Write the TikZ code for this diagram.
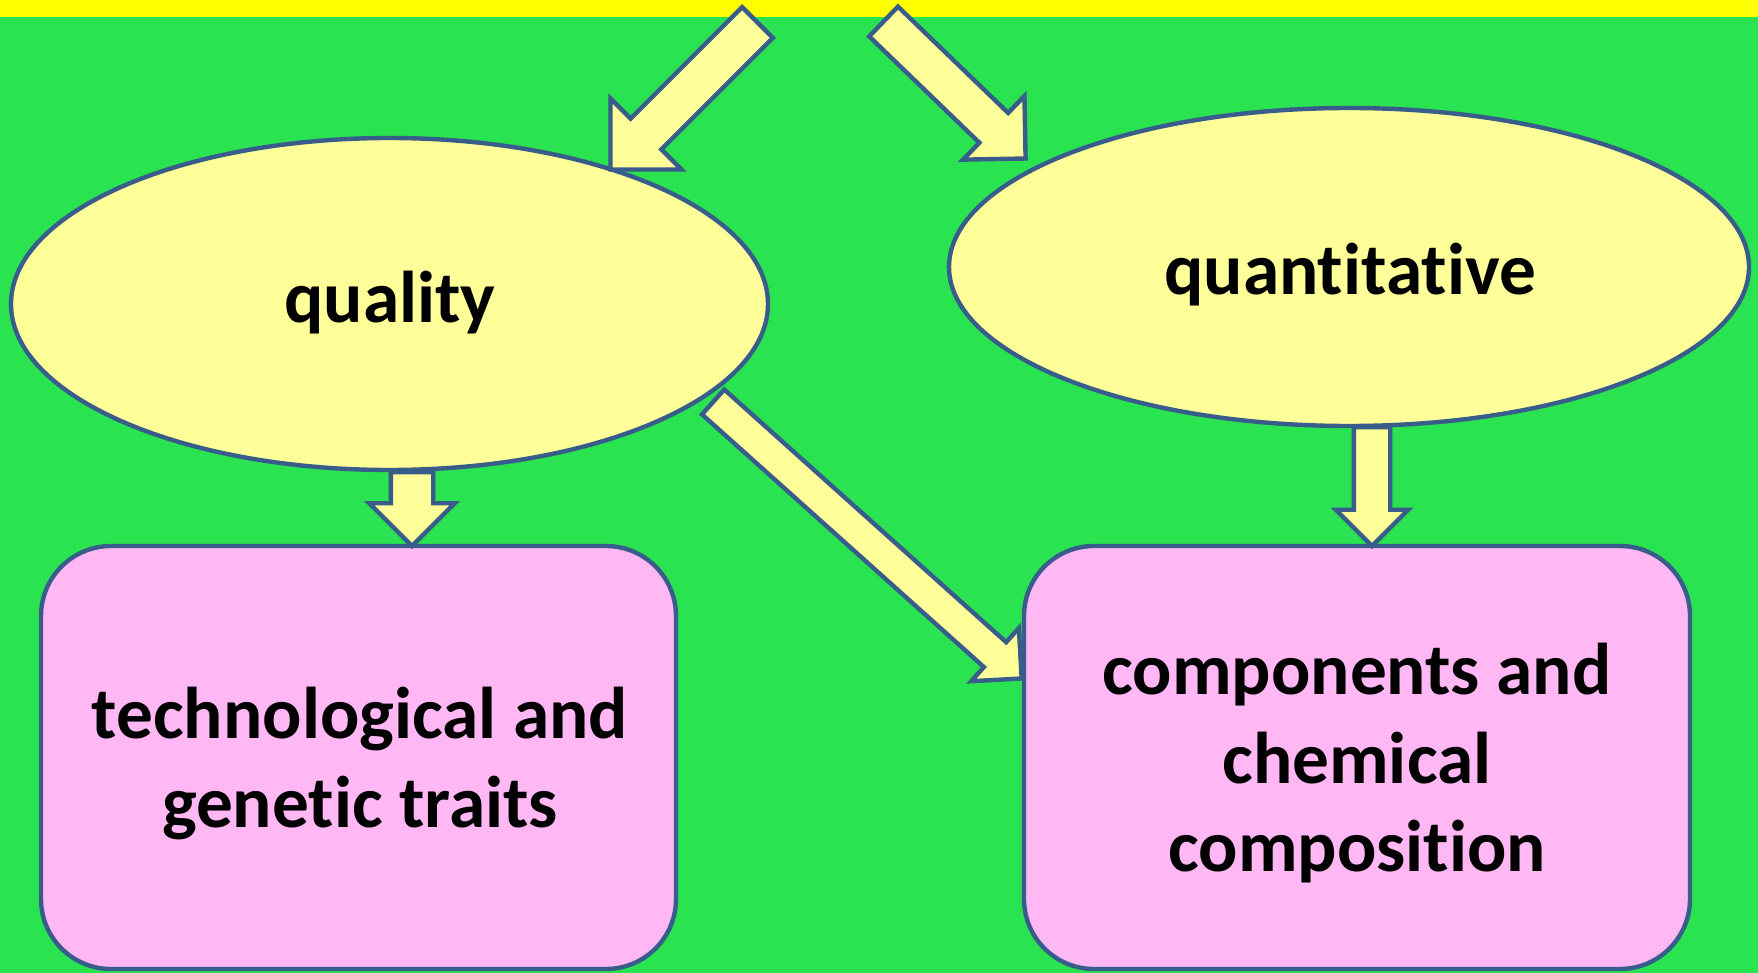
\documentclass[tikz,border=0pt]{standalone}
\usepackage{fontspec}
\setmainfont{Carlito}[Ligatures=NoCommon]
\usetikzlibrary{shapes.geometric,shapes.arrows,calc}
\definecolor{bggreen}{RGB}{42,227,81}
\definecolor{bandyel}{RGB}{255,255,0}
\definecolor{lightyel}{RGB}{255,255,153}
\definecolor{pinkbox}{RGB}{255,184,244}
\definecolor{edgeblue}{RGB}{56,93,138}
% #1 tail, #2 tip, #3 head width, #4 shaft half width, #5 head extend
\newcommand\blockarrow[5]{%
  \path let \p1=(#1), \p2=(#2),
            \n1={atan2(\y2-\y1,\x2-\x1)},
            \n2={veclen(\x2-\x1,\y2-\y1)} in
    node[barrow, rotate=\n1, minimum height=\n2, minimum width=#3,
         inner ysep=#4, single arrow head extend=#5, anchor=tail] at (\p1) {};}
\begin{document}
\begin{tikzpicture}[x=0.5pt,y=-0.5pt,
  shapeline/.style={draw=edgeblue, line width=2.2pt},
  oval/.style={shapeline, ellipse, fill=lightyel, inner sep=0pt},
  pbox/.style={shapeline, rectangle, rounded corners=35pt, fill=pinkbox, inner sep=0pt},
  barrow/.style={shapeline, single arrow, fill=lightyel, inner xsep=0pt, single arrow tip angle=90},
  txt/.style={font=\fontsize{36.65}{44.5}\selectfont\bfseries, inner sep=0pt, text=black}]
\useasboundingbox (0,0) rectangle (1758,973);
\fill[bggreen] (0,0) rectangle (1758,973);
\fill[bandyel] (0,0) rectangle (1758,17);
% ovals
\node[oval, minimum width=378.5pt, minimum height=166pt] (qual) at (389.5,304) {};
\node[oval, minimum width=400pt, minimum height=159pt] (quant) at (1349,267) {};
% boxes
\node[pbox, minimum width=317.5pt, minimum height=211.5pt] (tech) at (358.5,757.5) {};
\node[pbox, minimum width=333pt, minimum height=211.5pt] (comp) at (1357,757.5) {};
% texts
\node[txt, anchor=base] (qualt) at (390,323) {quality};
\node[txt, anchor=base] (quantt) at (1350,295) {quantitative};
\node[txt, anchor=base] (techt) at (360,738) {\begin{tabular}[t]{@{}c@{}}technological and\\genetic traits\end{tabular}};
\node[txt, anchor=base] (compt) at (1357,694) {\begin{tabular}[t]{@{}c@{}}components and\\chemical\\composition\end{tabular}};
% arrow end points
\coordinate (tlA) at (759,21);    \coordinate (tlB) at (612,168);
\coordinate (trA) at (882,20);    \coordinate (trB) at (1024,157);
\coordinate (dgA) at (711.5,400.5); \coordinate (dgB) at (1020,677);
\coordinate (ldA) at (412,470);   \coordinate (ldB) at (ldA |- tech.north);
\coordinate (rdA) at (1372,425);  \coordinate (rdB) at (rdA |- comp.north);
% block arrows
\blockarrow{tlA}{tlB}{48pt}{9.75pt}{14.25pt}
\blockarrow{trA}{trB}{42pt}{9.25pt}{11.75pt}
\blockarrow{dgA}{dgB}{33.5pt}{7.25pt}{9.5pt}
\blockarrow{ldA}{ldB}{40.5pt}{9.5pt}{10.75pt}
\blockarrow{rdA}{rdB}{34pt}{8pt}{9pt}
\end{tikzpicture}
\end{document}
